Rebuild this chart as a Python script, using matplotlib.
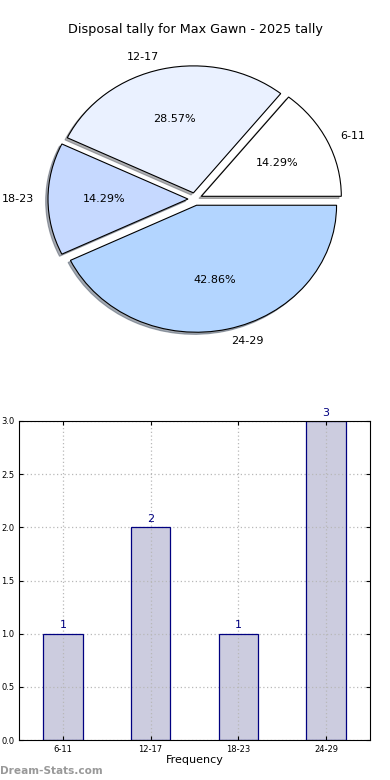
import matplotlib
matplotlib.use('Agg')
import matplotlib.pyplot as plt

categories = ['6-11', '12-17', '18-23', '24-29']
counts = [1, 2, 1, 3]
pie_colors = ['#ffffff', '#eaf1ff', '#c6d9ff', '#b3d5ff']
explode = [0.05, 0.05, 0.05, 0.05]

fig = plt.figure(figsize=(3.9, 7.8), dpi=100)

# pie on top (not equal aspect, like the old matplotlib output)
ax1 = fig.add_axes([20/390, 0.5413, 350/390, 0.407])
wedges, texts, autotexts = ax1.pie(counts, labels=categories, colors=pie_colors,
                                   explode=explode, autopct='%.2f%%',
                                   shadow={'ox': -0.012, 'oy': -0.012, 'shade': 0.6},
                                   startangle=0, labeldistance=1.1,
                                   wedgeprops={'edgecolor': 'black', 'linewidth': 0.8},
                                   textprops={'fontsize': 8})
ax1.set_aspect('auto')
ax1.set_xlim(-1.25, 1.25)
ax1.set_ylim(-1.25, 1.25)
ax1.axis('off')
fig.text(0.5, 1 - 30/780, 'Disposal tally for Max Gawn - 2025 tally',
         ha='center', va='center', fontsize=9.2)

# bar chart below
ax2 = fig.add_axes([19/390, 40/780, 351/390, 319/780])
x = range(len(categories))
# fill under the grid, outline on top of it
ax2.bar(x, counts, width=0.45, color='#ccccdf', linewidth=0, zorder=1)
ax2.bar(x, counts, width=0.45, fill=False, edgecolor='#000080', linewidth=0.9, zorder=4)
for xi, c in zip(x, counts):
    ax2.text(xi, c + 0.03, str(c), ha='center', va='bottom', color='#000080', fontsize=8)
ax2.set_xlim(-0.5, 3.5)
ax2.set_ylim(0, 3.0)
ax2.set_xticks(list(x))
ax2.set_xticklabels(categories)
ax2.set_yticks([0.0, 0.5, 1.0, 1.5, 2.0, 2.5, 3.0])
ax2.set_yticklabels(['0.0', '0.5', '1.0', '1.5', '2.0', '2.5', '3.0'])
ax2.tick_params(direction='in', top=True, right=True, labelsize=6, length=3)
ax2.grid(True, linestyle=(0, (1, 2)), color='#b8b8b8', linewidth=0.9, zorder=2)
for sp in ax2.spines.values():
    sp.set_zorder(5)
ax2.set_xlabel('Frequency', fontsize=8, labelpad=1)

fig.text(0.0, 1 - 771/780, 'Dream-Stats.com', ha='left', va='center',
         fontsize=7.6, color='#999999', fontweight='bold')

fig.savefig('out.png', dpi=100)
